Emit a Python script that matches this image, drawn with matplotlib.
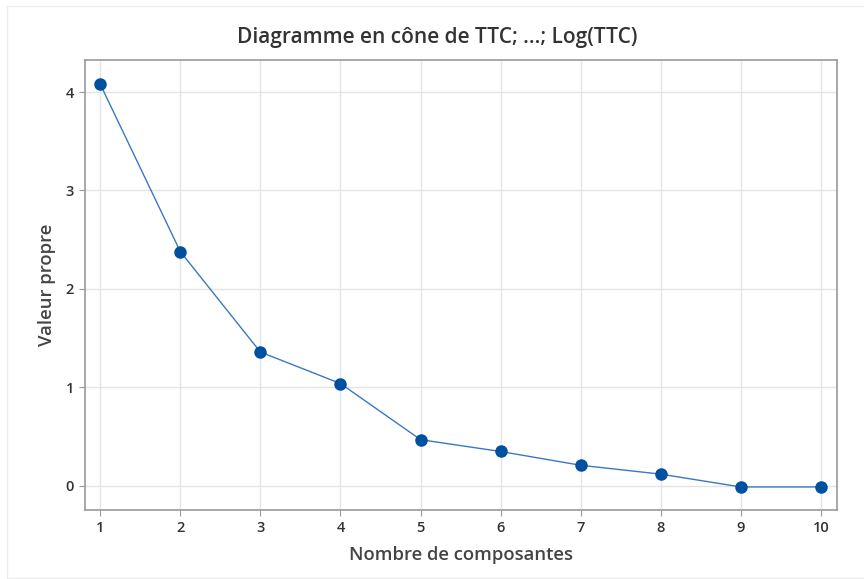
import numpy as np
import matplotlib.pyplot as plt
from matplotlib.patches import Rectangle

plt.rcParams['font.family'] = ['Open Sans', 'DejaVu Sans']

composantes = [1, 2, 3, 4, 5, 6, 7, 8, 9, 10]
valeurs = [4.08, 2.38, 1.36, 1.04, 0.47, 0.35, 0.21, 0.12, -0.01, -0.01]
yticks = [0, 1, 2, 3, 4]

fig = plt.figure(figsize=(8.64, 5.79), dpi=100)

# faint outer frame of the original screenshot
fig.patches.append(Rectangle((7/864, 1/579), 950/864, 572/579, transform=fig.transFigure,
                             fill=False, edgecolor='#ececec', linewidth=1))

ax = fig.add_axes([85/864, 1 - 510/579, (837-85)/864, (510-60)/579])

ax.plot(composantes, valeurs, '-', color='#3a78c2', linewidth=1.0, zorder=3)
ax.plot(composantes, valeurs, 'o', color='#0050a0', markersize=8, zorder=4)

ax.set_xlim(0.81, 10.2)
ax.set_ylim(-0.244, 4.325)
ax.set_xticks(composantes)
ax.set_yticks(yticks)
ax.grid(True, color='#e4e4e4', linewidth=1)
ax.set_axisbelow(True)
for s in ax.spines.values():
    s.set_color('#9a9a9a')
    s.set_linewidth(1.2)
ax.tick_params(direction='out', length=4, color='#9a9a9a', labelsize=10.5,
               labelcolor='#333333', pad=4)
for lbl in ax.get_xticklabels() + ax.get_yticklabels():
    lbl.set_fontweight('semibold')

fig.text(437/864, 1 - 37/579, 'Diagramme en cône de TTC; ...; Log(TTC)', fontsize=15,
         color='#333333', ha='center', va='center', fontweight='semibold')
ax.set_xlabel('Nombre de composantes', fontsize=13.3, color='#444444',
              labelpad=8, fontweight='semibold')
ax.set_ylabel('Valeur propre', fontsize=13.3, color='#444444',
              labelpad=7, fontweight='semibold')

fig.savefig('out.png', dpi=100)
